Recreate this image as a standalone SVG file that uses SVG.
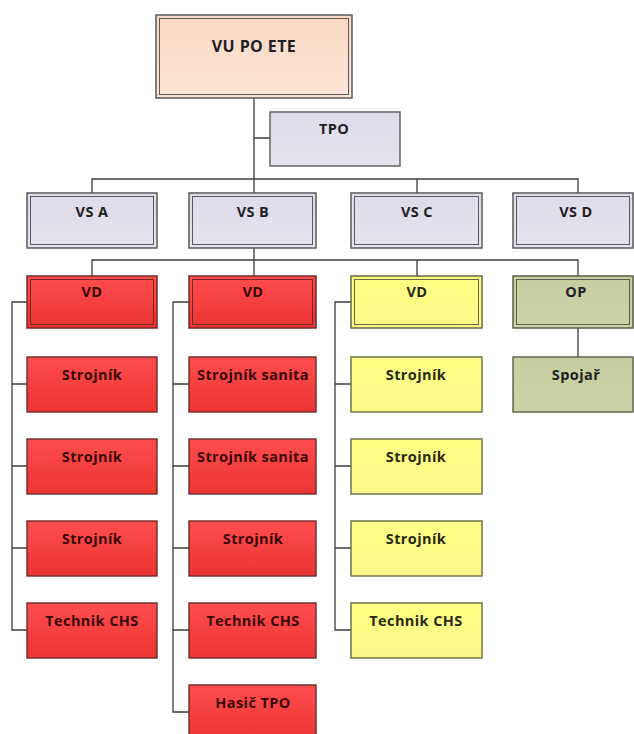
<svg xmlns="http://www.w3.org/2000/svg" width="634" height="734" viewBox="0 0 634 734">
  <defs>
    <linearGradient id="gPeach" x1="0" y1="0" x2="0" y2="1">
      <stop offset="0" stop-color="#f9d8c4"/>
      <stop offset="1" stop-color="#fce6d8"/>
    </linearGradient>
    <linearGradient id="gLav" x1="0" y1="0" x2="0" y2="1">
      <stop offset="0" stop-color="#dedbe8"/>
      <stop offset="1" stop-color="#e6e3ef"/>
    </linearGradient>
    <linearGradient id="gRed" x1="0" y1="0" x2="0" y2="1">
      <stop offset="0" stop-color="#ff4d4d"/>
      <stop offset="1" stop-color="#ec3434"/>
    </linearGradient>
    <linearGradient id="gYel" x1="0" y1="0" x2="0" y2="1">
      <stop offset="0" stop-color="#ffff84"/>
      <stop offset="1" stop-color="#fbf88a"/>
    </linearGradient>
    <linearGradient id="gGrn" x1="0" y1="0" x2="0" y2="1">
      <stop offset="0" stop-color="#c6cea0"/>
      <stop offset="1" stop-color="#ccd3a8"/>
    </linearGradient>
  </defs>
  <style>
    .conn { stroke: #3c3c3c; stroke-width: 1.3; fill: none; }
    .outer { stroke: #5a5a5a; stroke-width: 1.5; }
    .inner { fill: none; stroke: #5a5a5a; stroke-width: 1; }
    .peach { fill: url(#gPeach); }
    .lav { fill: url(#gLav); }
    .red { fill: url(#gRed); }
    .yel { fill: url(#gYel); }
    .grn { fill: url(#gGrn); }
    .redb { stroke: #6e2a2a; }
    .yelb { stroke: #6a6a40; }
    .grnb { stroke: #5a5e48; }
    .single { stroke-width: 1.4; }
    text { font-family: "Open Sans", "Liberation Sans", sans-serif; font-weight: bold; font-size: 14.5px; letter-spacing: 0.4px; text-anchor: middle; fill: #1e1e24; }
    .tr { fill: #3a0808; }
    .ty { fill: #2a2a10; }
  </style>

  <g id="connectors">
    <path class="conn" d="M254 98 V179 M254 138 H270"/>
    <path class="conn" d="M92 193 V179 H578 V193 M254 179 V193 M417 179 V193"/>
    <path class="conn" d="M254 248 V260 M92 276 V260 H578 V276 M254 260 V276 M417 260 V276"/>
    <path class="conn" d="M578 328 V357"/>
    <path class="conn" d="M27 302 H12 V630 H27 M12 384 H27 M12 466 H27 M12 548 H27"/>
    <path class="conn" d="M189 302 H173 V712 H189 M173 384 H189 M173 466 H189 M173 548 H189 M173 630 H189"/>
    <path class="conn" d="M351 302 H335 V630 H351 M335 384 H351 M335 466 H351 M335 548 H351"/>
  </g>

  <g id="n-vupoete">
    <rect class="peach outer" x="156" y="15" width="196" height="83"/>
    <rect class="inner" x="159.5" y="18.5" width="189" height="76"/>
    <text x="254" y="52" style="font-size:16px">VU PO ETE</text>
  </g>
  <g id="n-tpo">
    <rect class="lav outer single" x="270" y="112" width="130" height="54"/>
    <text x="334" y="134">TPO</text>
  </g>

  <g id="n-vsa">
    <rect class="lav outer" x="27" y="193" width="130" height="55"/>
    <rect class="inner" x="30.5" y="196.5" width="123" height="48"/>
    <text x="92" y="217">VS A</text>
  </g>
  <g id="n-vsb">
    <rect class="lav outer" x="189" y="193" width="127" height="55"/>
    <rect class="inner" x="192.5" y="196.5" width="120" height="48"/>
    <text x="253" y="217">VS B</text>
  </g>
  <g id="n-vsc">
    <rect class="lav outer" x="351" y="193" width="131" height="55"/>
    <rect class="inner" x="354.5" y="196.5" width="124" height="48"/>
    <text x="417" y="217">VS C</text>
  </g>
  <g id="n-vsd">
    <rect class="lav outer" x="513" y="193" width="120" height="55"/>
    <rect class="inner" x="516.5" y="196.5" width="113" height="48"/>
    <text x="576" y="217">VS D</text>
  </g>

  <g id="n-vd-a">
    <rect class="red outer redb" x="27" y="276" width="130" height="52"/>
    <rect class="inner redb" x="30.5" y="279.5" width="123" height="45"/>
    <text class="tr" x="92" y="297">VD</text>
  </g>
  <g id="n-vd-b">
    <rect class="red outer redb" x="189" y="276" width="127" height="52"/>
    <rect class="inner redb" x="192.5" y="279.5" width="120" height="45"/>
    <text class="tr" x="253" y="297">VD</text>
  </g>
  <g id="n-vd-c">
    <rect class="yel outer yelb" x="351" y="276" width="131" height="52"/>
    <rect class="inner yelb" x="354.5" y="279.5" width="124" height="45"/>
    <text class="ty" x="417" y="297">VD</text>
  </g>
  <g id="n-op">
    <rect class="grn outer grnb" x="513" y="276" width="120" height="52"/>
    <rect class="inner grnb" x="516.5" y="279.5" width="113" height="45"/>
    <text x="576" y="297">OP</text>
  </g>

  <g id="n-a1"><rect class="red outer redb single" x="27" y="357" width="130" height="55"/><text class="tr" x="92" y="380">Strojník</text></g>
  <g id="n-a2"><rect class="red outer redb single" x="27" y="439" width="130" height="55"/><text class="tr" x="92" y="462">Strojník</text></g>
  <g id="n-a3"><rect class="red outer redb single" x="27" y="521" width="130" height="55"/><text class="tr" x="92" y="544">Strojník</text></g>
  <g id="n-a4"><rect class="red outer redb single" x="27" y="603" width="130" height="55"/><text class="tr" x="92" y="626">Technik CHS</text></g>

  <g id="n-b1"><rect class="red outer redb single" x="189" y="357" width="127" height="55"/><text class="tr" x="253" y="380">Strojník sanita</text></g>
  <g id="n-b2"><rect class="red outer redb single" x="189" y="439" width="127" height="55"/><text class="tr" x="253" y="462">Strojník sanita</text></g>
  <g id="n-b3"><rect class="red outer redb single" x="189" y="521" width="127" height="55"/><text class="tr" x="253" y="544">Strojník</text></g>
  <g id="n-b4"><rect class="red outer redb single" x="189" y="603" width="127" height="55"/><text class="tr" x="253" y="626">Technik CHS</text></g>
  <g id="n-b5"><rect class="red outer redb single" x="189" y="685" width="127" height="55"/><text class="tr" x="253" y="708">Hasič TPO</text></g>

  <g id="n-c1"><rect class="yel outer yelb single" x="351" y="357" width="131" height="55"/><text class="ty" x="416" y="380">Strojník</text></g>
  <g id="n-c2"><rect class="yel outer yelb single" x="351" y="439" width="131" height="55"/><text class="ty" x="416" y="462">Strojník</text></g>
  <g id="n-c3"><rect class="yel outer yelb single" x="351" y="521" width="131" height="55"/><text class="ty" x="416" y="544">Strojník</text></g>
  <g id="n-c4"><rect class="yel outer yelb single" x="351" y="603" width="131" height="55"/><text class="ty" x="416" y="626">Technik CHS</text></g>

  <g id="n-d1"><rect class="grn outer grnb single" x="513" y="357" width="120" height="55"/><text x="576" y="380">Spojař</text></g>
</svg>
